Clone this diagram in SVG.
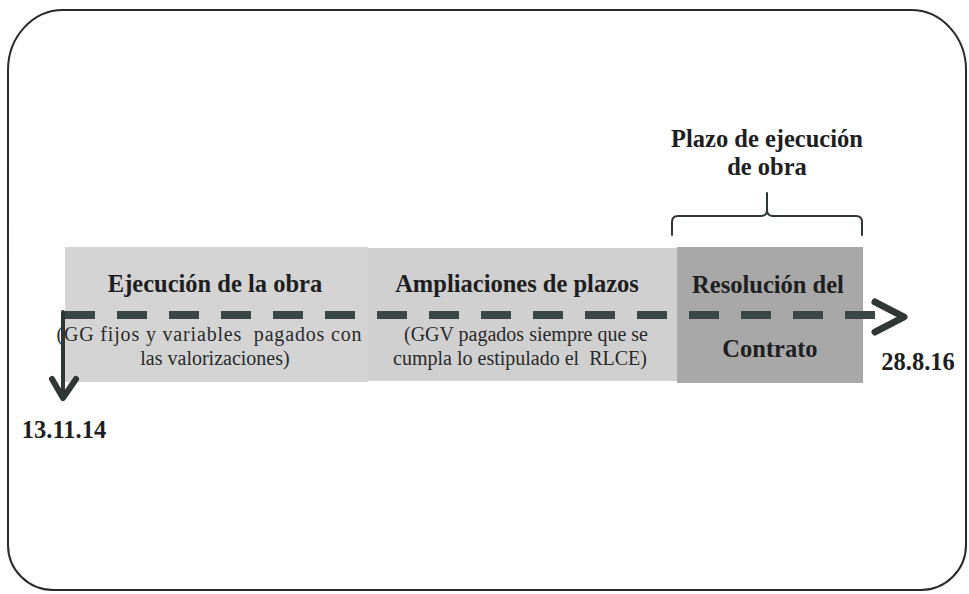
<svg xmlns="http://www.w3.org/2000/svg" width="969" height="594" viewBox="0 0 969 594">
  <style>
    .b { font-family: "Liberation Serif", "Times New Roman", serif; font-weight: bold; font-size: 24.5px; fill: #1e1e1e; text-anchor: middle; }
    .n { font-family: "Liberation Serif", "Times New Roman", serif; font-size: 20px; fill: #2a2a2a; text-anchor: middle; white-space: pre; }
    .dash { stroke: #3b4747; stroke-width: 8; fill: none; stroke-dasharray: 30 22; }
    .ln { stroke: #2e3636; fill: none; stroke-linecap: round; stroke-linejoin: round; }
  </style>
  <rect width="969" height="594" fill="#ffffff"/>
  <path id="frame" d="M 63 10 L 911 10 A 55 60 0 0 1 966 70 L 966 545 A 45 45 0 0 1 921 590 L 53 590 A 45 45 0 0 1 8 545 L 8 70 A 55 60 0 0 1 63 10 Z" fill="none" stroke="#2a2a2a" stroke-width="2"/>

  <g id="ejecucion">
    <rect x="65" y="247" width="303" height="135" fill="#d4d4d4"/>
    <text class="b" x="215" y="292">Ejecución de la obra</text>
    <text class="n" x="209" y="341" textLength="305" lengthAdjust="spacing">(GG fijos y variables  pagados con</text>
    <text class="n" x="215" y="365">las valorizaciones)</text>
  </g>

  <g id="ampliaciones">
    <rect x="368" y="248" width="309" height="133" fill="#d0d0d0"/>
    <text class="b" x="517" y="292">Ampliaciones de plazos</text>
    <text class="n" x="526" y="341">(GGV pagados siempre que se</text>
    <text class="n" x="520" y="365">cumpla lo estipulado el  RLCE)</text>
  </g>

  <g id="resolucion">
    <rect x="677" y="247" width="186" height="136" fill="#a8a8a8"/>
    <text class="b" x="768" y="293">Resolución del</text>
    <text class="b" x="770" y="357">Contrato</text>
  </g>

  <g id="plazo">
    <text class="b" x="767" y="147">Plazo de ejecución</text>
    <text class="b" x="767" y="175">de obra</text>
  </g>

  <g id="fechas">
    <text class="b" x="918" y="370">28.8.16</text>
    <text class="b" x="64" y="438">13.11.14</text>
  </g>

  <g id="connectors">
    <path class="dash" d="M 65 315 L 880 315"/>
    <path class="ln" d="M 875 302 L 904 317 L 875 332" stroke-width="7"/>
    <path class="ln" d="M 63 312 L 63 398" stroke-width="4"/>
    <path class="ln" d="M 52 379 L 63 398 L 76 379" stroke-width="6"/>
    <path class="ln" d="M 672 235 L 672 222 Q 672 216 678 216 L 761 216 Q 767 216 767 210 L 767 193 M 767 210 Q 767 216 773 216 L 856 216 Q 862 216 862 222 L 862 235" stroke-width="2" stroke="#3a3a3a"/>
  </g>
</svg>
